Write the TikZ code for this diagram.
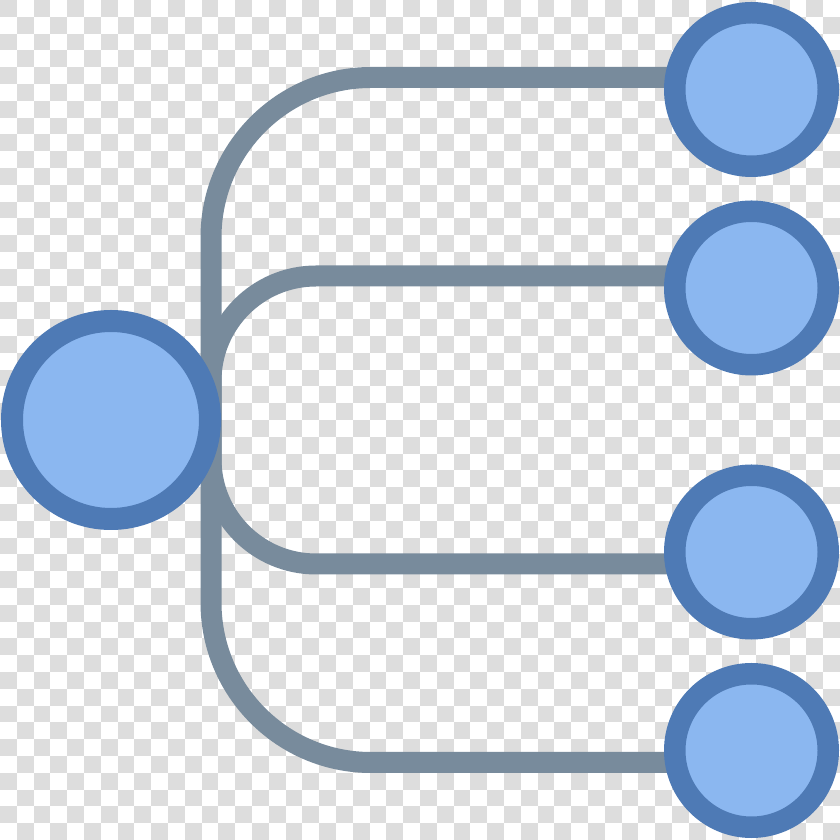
\documentclass[tikz,border=0pt]{standalone}
\usetikzlibrary{calc}
\definecolor{wiregrey}{HTML}{788B9C}
\definecolor{ringblue}{HTML}{4E7AB5}
\definecolor{fillblue}{HTML}{8BB7F0}
\definecolor{checkgrey}{HTML}{DDDDDD}
\begin{document}
\begin{tikzpicture}[x=1pt,y=1pt,
  checker/.style={fill=checkgrey},
  wire/.style={draw=wiregrey,line width=21pt},
  bignode/.style={circle,draw=ringblue,fill=fillblue,line width=22pt,inner sep=0pt,minimum size=198pt},
  leafnode/.style={circle,draw=ringblue,fill=fillblue,line width=21.5pt,inner sep=0pt,minimum size=153.5pt}]
\useasboundingbox (0,0) rectangle (840,840);
\fill[white] (0,0) rectangle (840,840);
\foreach \j in {0,2,...,48} \foreach \i in {0,2,...,48}
  \fill[checker] (\i*16.8,840-\j*16.8) rectangle ++(16.8,-16.8);
\foreach \j in {1,3,...,49} \foreach \i in {1,3,...,49}
  \fill[checker] (\i*16.8,840-\j*16.8) rectangle ++(16.8,-16.8);
% centres
\coordinate (c0) at (111,420);
\coordinate (c1) at (751.5,750.5);
\coordinate (c2) at (751.5,552);
\coordinate (c3) at (751.5,288);
\coordinate (c4) at (751.5,89.5);
% connectors
\draw[wire] (c1 |- 0,762.5) -- (371,762.5) arc[start angle=90,end angle=180,radius=160]
  -- (211,237.5) arc[start angle=180,end angle=270,radius=160] -- (c4 |- 0,77.5);
\draw[wire] (c2 |- 0,564) -- (316,564) arc[start angle=90,end angle=180,radius=105]
  -- (211,381) arc[start angle=180,end angle=270,radius=105] -- (c3 |- 0,276);
% nodes
\node[bignode] (n0) at (c0) {};
\node[leafnode] (n1) at (c1) {};
\node[leafnode] (n2) at (c2) {};
\node[leafnode] (n3) at (c3) {};
\node[leafnode] (n4) at (c4) {};
\end{tikzpicture}
\end{document}
